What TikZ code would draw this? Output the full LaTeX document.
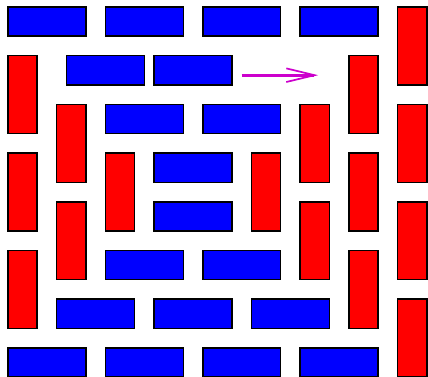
\documentclass[tikz,border=0pt]{standalone}
\usetikzlibrary{arrows.meta}
\definecolor{arrowmag}{RGB}{204,0,204}
\begin{document}
\begin{tikzpicture}[
  brick/.style={draw=black, line width=0.9pt},
  hbrick/.style={brick, fill=blue},
  vbrick/.style={brick, fill=red},
  arrowline/.style={draw=arrowmag, line width=1.6pt,
    -{Straight Barb[length=0.58cm, width=0.28cm, line width=1pt]}}
]
\useasboundingbox (-0.164,0.144) rectangle (8.625,-7.597);
% horizontal (blue) bricks: top-left corners (x, row)
\foreach \x/\y in {0/0, 2/0, 4/0, 6/0,
                   1.2/1, 3/1,
                   2/2, 4/2,
                   3/3,
                   3/4,
                   2/5, 4/5,
                   1/6, 3/6, 5/6,
                   0/7, 2/7, 4/7, 6/7}
  \draw[hbrick] (\x,-\y) rectangle ++(1.6,-0.6);
% vertical (red) bricks
\foreach \x/\y in {8/0, 0/1, 7/1, 1/2, 6/2, 8/2, 0/3, 2/3, 5/3, 7/3,
                   1/4, 6/4, 8/4, 0/5, 7/5, 8/6}
  \draw[vbrick] (\x,-\y) rectangle ++(0.6,-1.6);
% arrow
\coordinate (astart) at (4.8,-1.4);
\coordinate (aend) at (6.37,-1.4);
\draw[arrowline] (astart) -- (aend);
\end{tikzpicture}
\end{document}
